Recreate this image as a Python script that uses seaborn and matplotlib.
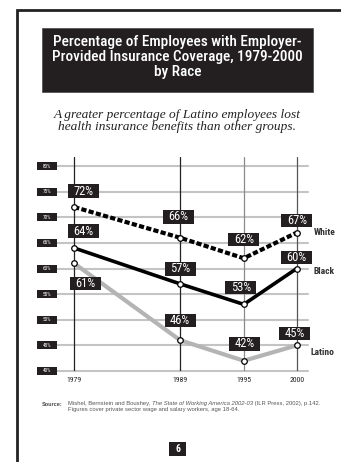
import matplotlib
matplotlib.use("Agg")
import matplotlib.pyplot as plt
import matplotlib.transforms as mtransforms
from matplotlib.patches import Rectangle
import numpy as np
import pandas as pd
import seaborn as sns
import logging
logging.getLogger("matplotlib.font_manager").setLevel(logging.ERROR)

# ---------------- data ----------------
years = [1979, 1989, 1995, 2000]
white = [72, 66, 62, 67]
black = [64, 57, 53, 60]
latino = [61, 46, 42, 45]
groups = ["White", "Black", "Latino"]
y_ticks = [40, 45, 50, 55, 60, 65, 70, 75, 80]
y_tick_labels = ["40%", "45%", "50%", "55%", "60%", "65%", "70%", "75%", "80%"]
x_tick_labels = ["1979", "1989", "1995", "2000"]

title = "Percentage of Employees with Employer-\nProvided Insurance Coverage, 1979-2000\nby Race"
subtitle = "A greater percentage of Latino employees lost\nhealth insurance benefits than other groups."

df = pd.DataFrame({
    "year": years * 3,
    "pct": white + black + latino,
    "group": ["White"] * 4 + ["Black"] * 4 + ["Latino"] * 4,
})

# ---------------- style ----------------
sns.set_style("white")
NARROW = ["Roboto Condensed", "Roboto", "DejaVu Sans"]
plt.rcParams["font.family"] = NARROW

W, H = 341, 462
fig = plt.figure(figsize=(W / 100, H / 100), dpi=100)
DARK = "#231f20"

def fx(px):
    return px / W

def fy(py):
    return 1 - py / H

# page frame
fig.add_artist(plt.Line2D([fx(17), fx(17), fx(345)], [fy(470), fy(10), fy(10)],
                          color="#222222", lw=2.0, transform=fig.transFigure,
                          solid_joinstyle="miter"))

# title box
fig.add_artist(Rectangle((fx(42), fy(92)), fx(313) - fx(42), fy(28) - fy(92),
                         transform=fig.transFigure, facecolor=DARK, edgecolor="#555555", lw=0.6))
fig.text(fx(177.5), fy(57), title, color="white", ha="center", va="center",
         fontsize=11.0, fontweight="medium", linespacing=1.13, family=NARROW)

fig.text(fx(177), fy(121), subtitle, color="#222222", ha="center", va="center",
         fontsize=9.6, style="italic", family=["Liberation Serif", "DejaVu Serif"],
         linespacing=0.95)

# ---------------- axes ----------------
ax_left, ax_right, ax_top, ax_bot = 57, 308, 157, 371
ax = fig.add_axes([fx(ax_left), fy(ax_bot), fx(ax_right) - fx(ax_left), fy(ax_top) - fy(ax_bot)])
ax.set_xlim(1977.38, 2001.06)
ax.set_ylim(40, 81.76)
ax.axis("off")

for y in y_ticks:
    ax.axhline(y, color="#c4c4c4", lw=1.5, zorder=1, clip_on=False)
vcols = {1979: "#222222", 1989: "#222222", 1995: "#8a8a8a", 2000: "#555555"}
for yr in years:
    ax.axvline(yr, color=vcols[yr], lw=0.9, zorder=1.5)

styles = {
    "White": dict(color="black", lw=3.0, linestyle=(0, (1.25, 0.55))),
    "Black": dict(color="black", lw=2.6, linestyle="-"),
    "Latino": dict(color="#b4b4b4", lw=3.0, linestyle="-"),
}
for g in groups:
    sub = df[df["group"] == g]
    sns.lineplot(data=sub, x="year", y="pct", ax=ax, legend=False, zorder=3,
                 solid_capstyle="butt", **styles[g])
sns.scatterplot(data=df, x="year", y="pct", ax=ax, color="white", edgecolor="black",
                linewidth=0.9, s=16, zorder=4, legend=False)
ax.axis("off")

# value labels (offsets in pixels relative to the marker)
offsets = {
    "White": [(9, 16), (-2, 21), (0, 19), (0, 12)],
    "Black": [(9, 17), (0, 15), (-3, 17), (0, 11)],
    "Latino": [(11, -20), (0, 20), (1, 17), (-2, 12)],
}
series = {"White": white, "Black": black, "Latino": latino}
bw_px, bh_px = 31, 13.5
xs_per_px = (2001.06 - 1977.38) / (ax_right - ax_left)
ys_per_px = (81.76 - 40) / (ax_bot - ax_top)
for g in groups:
    for i, yr in enumerate(years):
        v = series[g][i]
        dx, dy = offsets[g][i]
        tr = ax.transData + mtransforms.ScaledTranslation(dx / 100, dy / 100, fig.dpi_scale_trans)
        bw = bw_px * xs_per_px
        bh = bh_px * ys_per_px
        ax.add_patch(Rectangle((yr - bw / 2, v - bh / 2), bw, bh, transform=tr,
                               facecolor=DARK, edgecolor="none", zorder=5, clip_on=False))
        ax.text(yr, v, f"{v}%", transform=tr, color="white", ha="center", va="center",
                fontsize=9.0, zorder=6, clip_on=False)

# series names
name_off = {"White": (17, 0), "Black": (17, -3), "Latino": (14, -7)}
for g in groups:
    dx, dy = name_off[g]
    tr = ax.transData + mtransforms.ScaledTranslation(dx / 100, dy / 100, fig.dpi_scale_trans)
    ax.text(years[-1], series[g][-1], g, transform=tr, color="#333333", ha="left",
            va="center", fontsize=6.8, fontweight="bold", clip_on=False)

# y tick label boxes
blend = mtransforms.blended_transform_factory(fig.transFigure, ax.transData)
bh_t = 8 * ys_per_px
for y, lab in zip(y_ticks, y_tick_labels):
    fig.add_artist(Rectangle((fx(37), y - bh_t / 2), fx(57) - fx(37), bh_t,
                             transform=blend, facecolor=DARK, edgecolor="none"))
    fig.text(fx(47), y, lab, transform=blend, color="white", ha="center", va="center",
             fontsize=3.8)

# x tick labels
blend_x = mtransforms.blended_transform_factory(ax.transData, fig.transFigure)
for yr, lab in zip(years, x_tick_labels):
    fig.text(yr, fy(379.5), lab, transform=blend_x, color="#222222", ha="center",
             va="center", fontsize=5.6)

# source
SRC = ["Liberation Sans", "DejaVu Sans"]
fig.text(fx(42), fy(404), "Source:", color="#444444", fontsize=4.0, fontweight="bold",
         va="center", ha="left", family=SRC)
renderer = fig.canvas.get_renderer()
parts = [("Mishel, Bernstein and Boushey, ", "normal"),
         ("The State of Working America 2002-03", "italic"),
         (" (ILR Press, 2002), p.142.", "normal")]
xcur = 68
for txt, st in parts:
    t = fig.text(fx(xcur), fy(404), txt, color="#555555", fontsize=4.2, style=st,
                 va="center", ha="left", family=SRC)
    bb = t.get_window_extent(renderer=renderer)
    xcur += bb.width
fig.text(fx(68), fy(410), "Figures cover private sector wage and salary workers, age 18-64.",
         color="#555555", fontsize=4.2, va="center", ha="left", family=SRC)

# page number
fig.add_artist(Rectangle((fx(169), fy(456)), fx(186) - fx(169), fy(442) - fy(456),
                         transform=fig.transFigure, facecolor=DARK, edgecolor="none"))
fig.text(fx(177.5), fy(449), "6", color="white", ha="center", va="center",
         fontsize=7, fontweight="bold")

fig.savefig("out.png", dpi=100, facecolor="white")
